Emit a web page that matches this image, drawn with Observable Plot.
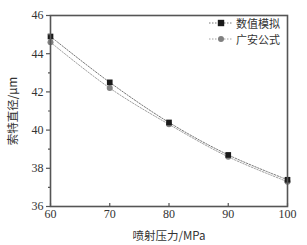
<!DOCTYPE html>
<html><head><meta charset="utf-8">
<script src="https://cdn.jsdelivr.net/npm/d3@7"></script>
<script src="https://cdn.jsdelivr.net/npm/@observablehq/plot@0.6"></script>
<style>
body{margin:0;background:#fff;}
#wrap{position:relative;width:307px;height:245px;}
#legend{position:absolute;left:209px;top:15px;font-family:"Noto Sans CJK SC",sans-serif;font-size:11px;color:#333;}
#legend div{display:flex;align-items:center;height:16px;}
#legend span{display:inline-block;line-height:11px;height:11px;}
#legend svg{margin-right:3px;}
</style>
</head><body>
<div id="wrap"><div id="legend"></div></div>
<script>
const pressures = [60, 70, 80, 90, 100];
const simulation = [44.9, 42.5, 40.4, 38.7, 37.4];
const formula = [44.6, 42.2, 40.3, 38.6, 37.3];
const seriesNames = ["数值模拟", "广安公式"];
const yTicks = [36, 38, 40, 42, 44, 46];
const yMinor = [37, 39, 41, 43, 45];
const xTicks = [60, 70, 80, 90, 100];

const sim = pressures.map((p, i) => ({p, v: simulation[i]}));
const gf = pressures.map((p, i) => ({p, v: formula[i]}));

const serif = "'Liberation Serif', 'DejaVu Serif', serif";
const cjk = "'Noto Sans CJK SC', sans-serif";

const chart = Plot.plot({
  width: 307, height: 245,
  marginLeft: 50, marginRight: 20, marginTop: 15, marginBottom: 39,
  style: {fontFamily: serif, fontSize: "12px", color: "#333", background: "white"},
  x: {domain: [60, 100]},
  y: {domain: [36, 46]},
  marks: [
    Plot.line(gf, {x: "p", y: "v", curve: "catmull-rom", stroke: "#888", strokeWidth: 0.8, strokeDasharray: "1.5,1.5"}),
    Plot.line(sim, {x: "p", y: "v", curve: "catmull-rom", stroke: "#555", strokeWidth: 0.8, strokeDasharray: "1.5,1.5"}),
    Plot.dot(gf, {x: "p", y: "v", symbol: "circle", r: 3, fill: "#808080", stroke: "none"}),
    Plot.dot(sim, {x: "p", y: "v", symbol: "square", r: 3.2, fill: "#1a1a1a", stroke: "none"}),
    Plot.axisY({ticks: yTicks, tickSize: 4, tickPadding: 3, stroke: "#555", strokeWidth: 1.2,
      label: "索特直径/μm", labelAnchor: "center", labelArrow: "none", labelOffset: 42}),
    Plot.axisY({ticks: yMinor, tickSize: 2, text: null, stroke: "#555", strokeWidth: 1.2, label: null}),
    Plot.axisX({ticks: xTicks, tickSize: 0, tickPadding: 3,
      label: "喷射压力/MPa", labelAnchor: "center", labelArrow: "none", labelOffset: 33}),
    Plot.axisX({ticks: xTicks, tickSize: -3, text: null, stroke: "#555", strokeWidth: 1.2, label: null}),
    Plot.frame({stroke: "#555", strokeWidth: 1.6})
  ]
});
chart.querySelectorAll("g[aria-label='y-axis label'], g[aria-label='x-axis label']").forEach(g => {
  g.setAttribute("fill", "#333");
  g.querySelectorAll("text").forEach(t => {
    t.style.fontFamily = cjk; t.style.fontSize = "11.5px"; t.style.fill = "#333";
  });
});
document.getElementById("wrap").prepend(chart);

const legend = document.getElementById("legend");
const sym = [
  `<svg width="24" height="8"><line x1="0" y1="4" x2="24" y2="4" stroke="#555" stroke-width="0.8" stroke-dasharray="1.5,1.5"/><rect x="8.8" y="0.8" width="6.4" height="6.4" fill="#1a1a1a"/></svg>`,
  `<svg width="24" height="8"><line x1="0" y1="4" x2="24" y2="4" stroke="#888" stroke-width="0.8" stroke-dasharray="1.5,1.5"/><circle cx="12" cy="4" r="3" fill="#808080"/></svg>`
];
seriesNames.forEach((n, i) => {
  const d = document.createElement("div");
  d.innerHTML = sym[i] + `<span>${n}</span>`;
  legend.appendChild(d);
});
</script>
</body></html>
